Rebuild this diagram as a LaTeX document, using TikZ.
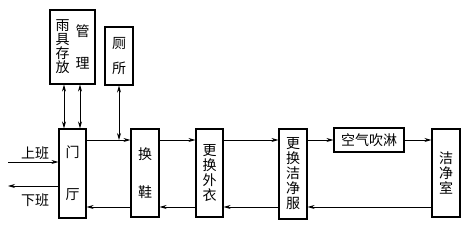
\documentclass[tikz,border=0pt]{standalone}
\usepackage{fontspec}
\newfontfamily\cjk{Noto Sans CJK SC}
\usetikzlibrary{arrows.meta}
\begin{document}
\begin{tikzpicture}[x=1pt,y=-1pt,
  box/.style={draw,line width=1.1pt,inner sep=0pt,align=center,
    font=\cjk\fontsize{14}{15}\selectfont},
  lbl/.style={inner sep=0pt,font=\cjk\fontsize{14}{15}\selectfont},
  arr/.style={line width=0.7pt,-{Stealth[length=7pt,width=4pt]}},
  darr/.style={line width=0.7pt,{Stealth[length=7pt,width=4pt]}-{Stealth[length=7pt,width=4pt]}}]
\useasboundingbox (0,0) rectangle (476,232);
% boxes
\node[box,minimum width=45pt,minimum height=74pt] (yj) at (72.5,47)
  {\parbox[c]{14pt}{\centering 雨\\[-1pt]具\\[-1pt]存\\[-1pt]放}\hspace{6pt}\parbox[c]{14pt}{\centering 管\\[17pt]理}};
\node[box,minimum width=28pt,minimum height=58pt] (cs) at (119,56) {厕\\[10pt]所};
\node[box,minimum width=27pt,minimum height=89pt] (mt) at (72.5,173.5) {门\\[27pt]厅};
\node[box,minimum width=28pt,minimum height=88pt] (hx) at (145,173) {换\\[23pt]鞋};
\node[box,minimum width=27pt,minimum height=88pt] (wy) at (209.5,173) {更\\换\\外\\衣};
\node[box,minimum width=28pt,minimum height=90pt] (jf) at (293,174) {更\\换\\洁\\净\\服};
\node[box,minimum width=70pt,minimum height=24pt] (kq) at (369,140) {空气吹淋};
\node[box,minimum width=28pt,minimum height=88pt] (jj) at (446,173) {洁\\净\\室};
% labels
\node[lbl] (sb) at (35,153) {上班};
\node[lbl] (xb) at (35,200) {下班};
% helper coordinates
\coordinate (top) at (0,140);
\coordinate (bot) at (0,207);
\coordinate (xa) at (64,0);
\coordinate (xb2) at (80,0);
\coordinate (c1) at (119,140);
\coordinate (s1) at (8,162);
\coordinate (s2) at (8,186);
% top flow
\draw[arr] (mt.east |- top) -- (hx.west |- top);
\draw[arr] (hx.east |- top) -- (wy.west |- top);
\draw[arr] (wy.east |- top) -- (jf.west |- top);
\draw[arr] (jf.east |- top) -- (kq.west);
\draw[arr] (kq.east) -- (jj.west |- top);
% bottom flow
\draw[arr] (jj.west |- bot) -- (jf.east |- bot);
\draw[arr] (jf.west |- bot) -- (wy.east |- bot);
\draw[arr] (wy.west |- bot) -- (hx.east |- bot);
\draw[arr] (hx.west |- bot) -- (mt.east |- bot);
% vertical
\draw[darr] (yj.south -| xa) -- (mt.north -| xa);
\draw[darr] (yj.south -| xb2) -- (mt.north -| xb2);
\draw[darr] (cs.south) -- (c1);
% in/out
\draw[arr] (s1) -- (mt.west |- s1);
\draw[arr] (mt.west |- s2) -- (s2);
\end{tikzpicture}
\end{document}
